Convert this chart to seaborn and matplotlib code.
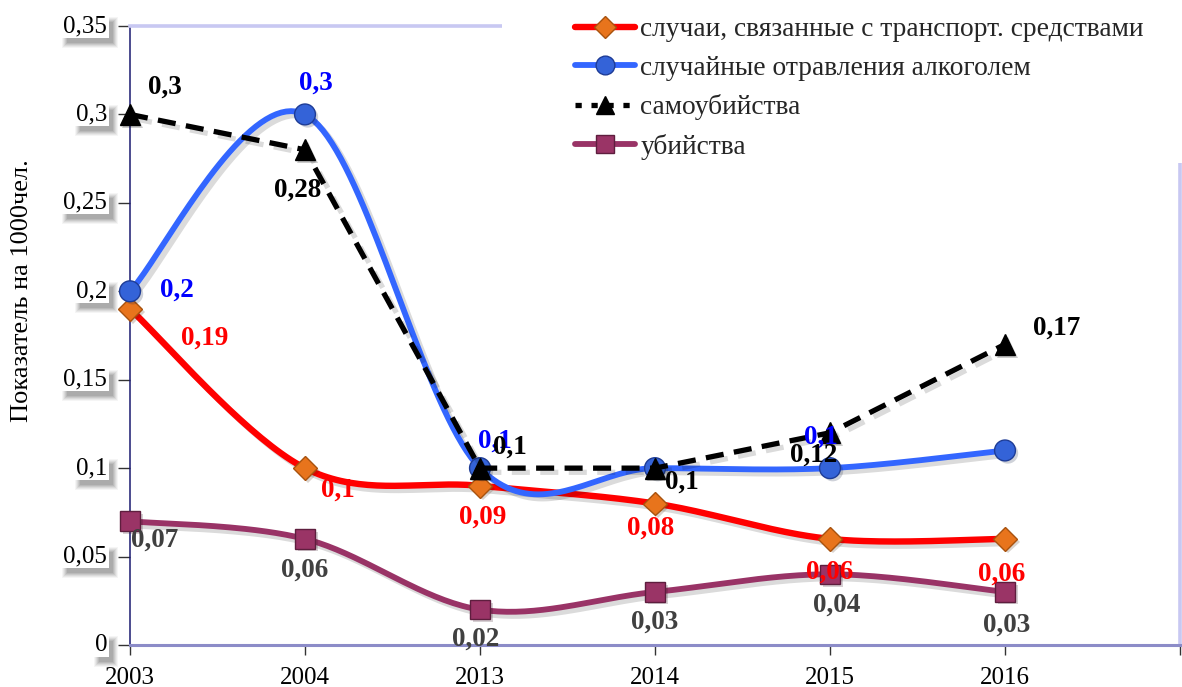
import numpy as np
import pandas as pd
import matplotlib
matplotlib.use("Agg")
import matplotlib.pyplot as plt
import matplotlib.patheffects as pe
import matplotlib.transforms as mtransforms
from matplotlib.lines import Line2D
from matplotlib.patches import Rectangle
import seaborn as sns

# ---- data -------------------------------------------------------------
years = ["2003", "2004", "2013", "2014", "2015", "2016"]
transport = [0.19, 0.10, 0.09, 0.08, 0.06, 0.06]
alcohol = [0.20, 0.30, 0.10, 0.10, 0.10, 0.11]
suicide = [0.30, 0.28, 0.10, 0.10, 0.12, 0.17]
homicide = [0.07, 0.06, 0.02, 0.03, 0.04, 0.03]

series_names = [
    "случаи, связанные с транспорт. средствами",
    "случайные отравления алкоголем",
    "самоубийства",
    "убийства",
]
y_ticks = [0, 0.05, 0.10, 0.15, 0.20, 0.25, 0.30, 0.35]
y_tick_labels = ["0", "0,05", "0,1", "0,15", "0,2", "0,25", "0,3", "0,35"]
y_title = "Показатель на 1000чел."

# ---- style ------------------------------------------------------------
sns.set_theme(style="white")
plt.rcParams["font.family"] = ["Liberation Serif", "DejaVu Serif"]
plt.rcParams["lines.scale_dashes"] = False

W, H = 1182, 687
fig = plt.figure(figsize=(W / 100, H / 100), dpi=100)
fig.patch.set_facecolor("white")
ax = fig.add_axes([130 / W, 42 / H, 1050 / W, 619 / H])
ax.set_facecolor("white")

x_idx = np.arange(len(years))


def smooth_curve(xs, ys, n=40):
    """Catmull-Rom style cubic Bezier through the points (spreadsheet 'smoothed line')."""
    p = np.column_stack([xs, ys]).astype(float)
    out = []
    for i in range(len(p) - 1):
        p0 = p[i - 1] if i > 0 else p[i]
        p1, p2 = p[i], p[i + 1]
        p3 = p[i + 2] if i + 2 < len(p) else p[i + 1]
        c1 = p1 + (p2 - p0) / 6.0
        c2 = p2 - (p3 - p1) / 6.0
        t = np.linspace(0, 1, n)[:, None]
        seg = ((1 - t) ** 3) * p1 + 3 * ((1 - t) ** 2) * t * c1 + 3 * (1 - t) * t ** 2 * c2 + t ** 3 * p2
        out.append(seg if i == 0 else seg[1:])
    c = np.vstack(out)
    return c[:, 0], c[:, 1]


shadow = [pe.SimpleLineShadow(offset=(3, -3), shadow_color="black", alpha=0.14), pe.Normal()]

specs = [
    dict(vals=transport, color="#FF0000", lw=4.6, smooth=True, marker="D", ms=12,
         mfc="#E8741C", mec="#A8520E", dashed=False),
    dict(vals=alcohol, color="#3366FF", lw=4.2, smooth=True, marker="o", ms=15,
         mfc="#3463D8", mec="#1E3C96", dashed=False),
    dict(vals=suicide, color="#000000", lw=3.8, smooth=False, marker="^", ms=15,
         mfc="#000000", mec="#000000", dashed=True),
    dict(vals=homicide, color="#993366", lw=4.2, smooth=True, marker="s", ms=14,
         mfc="#9A3466", mec="#5E1E3E", dashed=False),
]

for k, s in enumerate(specs):
    if s["smooth"]:
        sx, sy = smooth_curve(x_idx, s["vals"])
    else:
        sx, sy = x_idx.astype(float), np.asarray(s["vals"], float)
    df = pd.DataFrame({"x": sx, "y": sy})
    sns.lineplot(data=df, x="x", y="y", sort=False, estimator=None, color=s["color"],
                 linewidth=s["lw"], ax=ax, legend=False)
    ln = ax.lines[-1]
    ln.set_clip_on(False)
    ln.set_zorder(3 + k)
    ln.set_path_effects(shadow)
    if s["dashed"]:
        ln.set_dashes((13, 7.5))
        ln.set_dash_capstyle("butt")
    ax.plot(x_idx, s["vals"], linestyle="none", marker=s["marker"], markersize=s["ms"],
            markerfacecolor=s["mfc"], markeredgecolor=s["mec"], markeredgewidth=1.0,
            clip_on=False, zorder=3.5 + k,
            path_effects=[pe.SimplePatchShadow(offset=(2, -2), alpha=0.2), pe.Normal()])

# ---- value labels (index, offset in px: right, down) -----------------
label_sets = [
    (transport, "#FF0000", [(0, 75, 29), (1, 33, 22), (2, 3, 31), (3, -4, 25), (4, 0, 33), (5, -3, 35)]),
    (alcohol, "#0000FF", [(0, 47, -1), (1, 11, -31), (2, 15, -27), (4, -9, -31)]),
    (suicide, "#000000", [(0, 35, -27), (1, -7, 40), (2, 30, -21), (3, 27, 14), (4, -16, 22), (5, 52, -16)]),
    (homicide, "#404040", [(0, 25, 19), (1, 0, 31), (2, -4, 30), (3, 0, 30), (4, 7, 31), (5, 2, 33)]),
]


def fmt(v):
    return f"{v:g}".replace(".", ",")


for vals, col, items in label_sets:
    for i, dx, dy in items:
        ax.annotate(fmt(vals[i]), xy=(i, vals[i]), xytext=(dx * 0.72, -dy * 0.72),
                    textcoords="offset points", ha="center", va="center",
                    fontsize=19.5, fontweight="bold", color=col, zorder=20,
                    annotation_clip=False)

# ---- axes -------------------------------------------------------------
ax.set_xlim(0, 6)
ax.set_ylim(0, 0.35)
ax.set_xticks(list(range(7)))
ax.set_xticklabels(years + [""], fontsize=18)
ax.set_yticks(y_ticks)
ax.set_yticklabels([])
ax.set_xlabel("")
ax.set_ylabel("")
ax.tick_params(axis="x", direction="out", length=7, width=1, color="#333333", pad=9,
               bottom=True, labelcolor="black")
ax.tick_params(axis="y", direction="out", length=9, width=1, color="#333333", left=True)

frame = "#C8C8F2"
for side in ("top", "right"):
    ax.spines[side].set_color(frame)
    ax.spines[side].set_linewidth(2.6)
ax.spines["left"].set_color("#1A1A70")
ax.spines["left"].set_linewidth(1.1)
ax.spines["bottom"].set_color("#8C8CC8")
ax.spines["bottom"].set_linewidth(2.2)

# y tick labels (boxes and shadows are added once the text extents are known)
ytrans = ax.get_yaxis_transform() + mtransforms.ScaledTranslation(-23 / 100, 0, fig.dpi_scale_trans)
ylabels = []
for v, lab in zip(y_ticks, y_tick_labels):
    t = ax.text(0, v, lab, transform=ytrans, ha="right", va="center",
                fontsize=18, color="black", zorder=31, clip_on=False)
    ylabels.append(t)

fig.text(22 / W, 1 - 291 / H, y_title, rotation=90, ha="center", va="center",
         fontsize=19, color="black")

# ---- legend -----------------------------------------------------------
fig.add_artist(Rectangle((502 / W, 1 - 163 / H), 1 - 502 / W, 163 / H,
                         transform=fig.transFigure, facecolor="white", edgecolor="none",
                         zorder=2))
handles = []
for s, name in zip(specs, series_names):
    h = Line2D([0], [0], color=s["color"], linewidth=s["lw"], marker=s["marker"],
               markersize=s["ms"] * 0.9, markerfacecolor=s["mfc"], markeredgecolor=s["mec"],
               linestyle=(0, (4.5, 7)) if s["dashed"] else "-", label=name)
    handles.append(h)
fig.legend(handles=handles, loc="upper left", bbox_to_anchor=(575 / W, 1 - 17 / H),
           frameon=False, fontsize=19.8, handlelength=2.18, handletextpad=0.2,
           labelspacing=0.49, borderpad=0, borderaxespad=0)

# white boxes with soft drop shadows behind the y tick label boxes
fig.canvas.draw()
renderer = fig.canvas.get_renderer()
ident = mtransforms.IdentityTransform()
for t in ylabels:
    ext = t.get_window_extent(renderer)
    bx0, by0 = ext.x0 - 2, ext.y0 - 0.5
    bw, bh = ext.width + 4, ext.height + 1
    for grow, a in ((4, 0.04), (3, 0.05), (2, 0.06), (1, 0.07), (0, 0.08), (-1, 0.08)):
        ax.add_patch(Rectangle((bx0 + 5 - grow, by0 - 6 - grow), bw + 2 * grow, bh + 2 * grow,
                               transform=ident, facecolor="black", edgecolor="none",
                               alpha=a, zorder=29, clip_on=False))
    ax.add_patch(Rectangle((bx0, by0), bw, bh, transform=ident, facecolor="white",
                           edgecolor="none", zorder=30, clip_on=False))

fig.savefig("out.png", dpi=100, facecolor="white")
